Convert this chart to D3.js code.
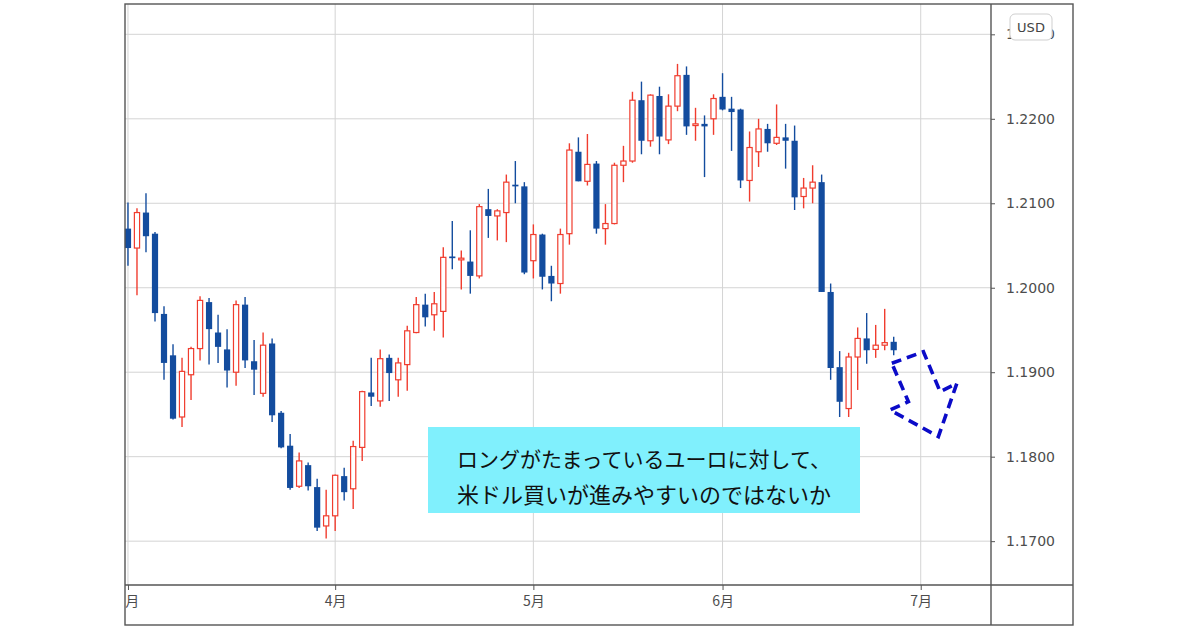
<!DOCTYPE html>
<html>
<head>
<meta charset="utf-8">
<script src="https://cdnjs.cloudflare.com/ajax/libs/d3/7.8.5/d3.min.js"></script>
<style>
  body { margin: 0; background: #fff; }
  .axis text { fill: #4d4d4d; }
</style>
</head>
<body>
<svg class="plot" width="1200" height="630"></svg>
<script>
// daily candles, 1 Mar .. 25 Jun (trading days)
var opens = [1.2070,1.2047,1.2089,1.2064,1.1969,1.1920,1.1847,1.1897,1.1928,1.1983,
  1.1947,1.1927,1.1900,1.1980,1.1913,1.1875,1.1934,1.1852,1.1813,1.1765,
  1.1790,1.1764,1.1718,1.1730,1.1777,1.1762,1.1811,1.1876,1.1866,1.1917,
  1.1891,1.1909,1.1947,1.1980,1.1968,1.1972,1.2037,1.2033,1.2031,1.2014,
  1.2093,1.2085,1.2089,1.2122,1.2120,1.2032,1.2063,1.2014,1.2005,1.2064,
  1.2161,1.2126,1.2147,1.2070,1.2076,1.2145,1.2150,1.2222,1.2174,1.2227,
  1.2175,1.2215,1.2252,1.2192,1.2194,1.2200,1.2226,1.2212,1.2211,1.2127,
  1.2161,1.2188,1.2171,1.2178,1.2174,1.2108,1.2118,1.2125,1.1995,1.1906,
  1.1857,1.1918,1.1940,1.1927,1.1932,1.1936];
var highs = [1.2101,1.2094,1.2112,1.2066,1.1978,1.1933,1.1917,1.1930,1.1990,1.1988,
  1.1968,1.1951,1.1985,1.1989,1.1938,1.1947,1.1940,1.1854,1.1827,1.1805,
  1.1793,1.1774,1.1761,1.1779,1.1787,1.1819,1.1878,1.1917,1.1927,1.1921,
  1.1917,1.1955,1.1989,1.1993,1.1995,1.2048,1.2079,1.2044,1.2068,1.2099,
  1.2117,1.2093,1.2134,1.2150,1.2125,1.2075,1.2064,1.2026,1.2070,1.2171,
  1.2178,1.2182,1.2150,1.2099,1.2148,1.2168,1.2232,1.2244,1.2229,1.2238,
  1.2229,1.2265,1.2262,1.2213,1.2204,1.2229,1.2254,1.2226,1.2212,1.2185,
  1.2200,1.2194,1.2217,1.2194,1.2192,1.2130,1.2145,1.2134,1.2005,1.1925,
  1.1923,1.1953,1.1970,1.1956,1.1975,1.1942];
var lows = [1.2026,1.1991,1.2042,1.1960,1.1891,1.1844,1.1835,1.1867,1.1914,1.1909,
  1.1911,1.1882,1.1884,1.1905,1.1873,1.1871,1.1841,1.1810,1.1761,1.1763,
  1.1760,1.1712,1.1703,1.1712,1.1748,1.1738,1.1795,1.1860,1.1859,1.1866,
  1.1871,1.1878,1.1946,1.1954,1.1949,1.1941,1.2022,1.1998,1.1993,1.2011,
  1.2059,1.2056,1.2054,1.2100,1.2016,1.2011,1.1998,1.1984,1.1993,1.2051,
  1.2126,1.2121,1.2064,1.2051,1.2075,1.2125,1.2148,1.2158,1.2167,1.2158,
  1.2170,1.2209,1.2181,1.2174,1.2131,1.2181,1.2210,1.2162,1.2118,1.2102,
  1.2143,1.2161,1.2169,1.2141,1.2092,1.2094,1.2100,1.1995,1.1891,1.1847,
  1.1847,1.1879,1.1910,1.1917,1.1926,1.1920];
var closes = [1.2047,1.2089,1.2061,1.1970,1.1911,1.1845,1.1901,1.1928,1.1985,1.1951,
  1.1930,1.1902,1.1980,1.1914,1.1903,1.1932,1.1849,1.1811,1.1763,1.1795,
  1.1765,1.1716,1.1730,1.1778,1.1758,1.1812,1.1877,1.1871,1.1916,1.1899,
  1.1911,1.1949,1.1980,1.1965,1.1981,1.2036,1.2035,1.2035,1.2014,1.2096,
  1.2085,1.2091,1.2125,1.2120,1.2018,1.2063,1.2013,1.2005,1.2063,1.2163,
  1.2126,1.2146,1.2070,1.2076,1.2145,1.2150,1.2222,1.2174,1.2228,1.2179,
  1.2215,1.2251,1.2191,1.2194,1.2191,1.2224,1.2211,1.2208,1.2127,1.2166,
  1.2188,1.2171,1.2178,1.2174,1.2107,1.2118,1.2125,1.1995,1.1905,1.1865,
  1.1918,1.1940,1.1926,1.1932,1.1935,1.1926];

// month starts as trading-day index
var monthTicks = [0, 23, 45, 66, 88];
var monthLabels = ["3月", "4月", "5月", "6月", "7月"];
var priceTicks = [1.17, 1.18, 1.19, 1.20, 1.21, 1.22, 1.23];

// dashed arrow outline (trading-day index, price)
var arrowIdx = [84.79, 88.30, 90.15, 92.01, 89.96, 84.60, 86.63];
var arrowPrice = [1.19106, 1.19243, 1.18770, 1.18869, 1.18237, 1.18553, 1.18651];

var noteLines = ["ロングがたまっているユーロに対して、", "米ドル買いが進みやすいのではないか"];

var svg = d3.select(".plot"),
    box = {left: 125, top: 4, right: 991, axisRight: 1073, bottom: 585, frameBottom: 625};

var up = "#f03c2e", down = "#134c9e";

var x = d3.scaleLinear().domain([-0.33, 95.8]).range([box.left, box.right]),
    y = d3.scaleLinear().domain([1.16481, 1.23359]).range([box.bottom, box.top]);

//grid
svg.append("g").selectAll("line")
    .data(priceTicks)
    .enter().append("line")
    .attr("x1", box.left).attr("x2", box.right)
    .attr("y1", function(d) { return y(d); })
    .attr("y2", function(d) { return y(d); })
    .style("stroke", "#d4d4d4");

svg.append("g").selectAll("line")
    .data(monthTicks)
    .enter().append("line")
    .attr("x1", function(d) { return x(d); })
    .attr("x2", function(d) { return x(d); })
    .attr("y1", box.top).attr("y2", box.bottom)
    .style("stroke", "#d4d4d4");

//price axis
var yAxis = svg.append("g")
    .attr("class", "axis")
    .attr("transform", "translate(" + box.right + ",0)")
    .call(d3.axisRight(y).tickValues(priceTicks).tickFormat(d3.format(".4f")).tickSize(4).tickPadding(11));
yAxis.select(".domain").remove();
yAxis.selectAll("line").style("stroke", "#555");
yAxis.selectAll("text")
    .style("font-family", "DejaVu Sans")
    .style("font-size", "14px");

//time axis, clipped at the left border
svg.append("clipPath").attr("id", "tclip")
    .append("rect").attr("x", box.left).attr("y", box.bottom)
    .attr("width", box.right - box.left).attr("height", box.frameBottom - box.bottom);

var xAxis = svg.append("g")
    .attr("clip-path", "url(#tclip)")
    .append("g")
    .attr("class", "axis")
    .attr("transform", "translate(0," + box.bottom + ")")
    .call(d3.axisBottom(x).tickValues(monthTicks)
      .tickFormat(function(d, i) { return monthLabels[i]; })
      .tickSize(5).tickPadding(6));
xAxis.select(".domain").remove();
xAxis.selectAll("line").style("stroke", "#555");
xAxis.selectAll("text")
    .style("font-family", "Noto Sans CJK JP")
    .style("font-size", "14px");

//candles
var idx = d3.range(opens.length);
var candle = svg.append("g").selectAll(".candle")
    .data(idx)
    .enter().append("g")
    .attr("class", "candle");

candle.append("line")
    .attr("x1", function(i) { return x(i); })
    .attr("x2", function(i) { return x(i); })
    .attr("y1", function(i) { return y(highs[i]); })
    .attr("y2", function(i) { return y(lows[i]); })
    .style("stroke", function(i) { return closes[i] >= opens[i] ? up : down; })
    .style("stroke-width", 1.4);

candle.append("rect")
    .attr("x", function(i) { return closes[i] >= opens[i] ? x(i) - 2.6 : x(i) - 3.1; })
    .attr("width", function(i) { return closes[i] >= opens[i] ? 5.2 : 6.2; })
    .attr("y", function(i) { return y(Math.max(opens[i], closes[i])); })
    .attr("height", function(i) { return Math.max(1.6, Math.abs(y(opens[i]) - y(closes[i]))); })
    .style("fill", function(i) { return closes[i] >= opens[i] ? "#fff" : down; })
    .style("stroke", function(i) { return closes[i] >= opens[i] ? up : "none"; })
    .style("stroke-width", 1.2);

//note box
svg.append("rect")
    .attr("x", 428).attr("y", 427)
    .attr("width", 432).attr("height", 86)
    .style("fill", "#80f0fd");

svg.append("g").selectAll("text")
    .data(noteLines)
    .enter().append("text")
    .attr("x", 644)
    .attr("y", function(d, i) { return 458 + i * 35; })
    .attr("dominant-baseline", "central")
    .style("text-anchor", "middle")
    .style("font-family", "Noto Sans CJK JP")
    .style("font-size", function(d, i) { return i ? "22px" : "21px"; })
    .style("fill", "#111")
    .text(function(d) { return d; });

//arrow
var arrowLine = d3.line()
    .x(function(i) { return x(arrowIdx[i]); })
    .y(function(i) { return y(arrowPrice[i]); })
    .curve(d3.curveLinearClosed);

svg.append("path")
    .attr("d", arrowLine(d3.range(arrowIdx.length)))
    .style("fill", "none")
    .style("stroke", "#0b0bc8")
    .style("stroke-width", 3.6)
    .style("stroke-dasharray", "10,6")
    .style("stroke-linejoin", "miter");

//frame
var frame = svg.append("g").style("stroke", "#555").style("stroke-width", 1.4).style("fill", "none");
frame.append("rect").attr("x", box.left).attr("y", box.top)
    .attr("width", box.axisRight - box.left).attr("height", box.frameBottom - box.top);
frame.append("line").attr("x1", box.right).attr("x2", box.right).attr("y1", box.top).attr("y2", box.frameBottom);
frame.append("line").attr("x1", box.left).attr("x2", box.axisRight).attr("y1", box.bottom).attr("y2", box.bottom);

//currency badge
svg.append("rect")
    .attr("x", 1010).attr("y", 14)
    .attr("width", 42).attr("height", 26)
    .attr("rx", 5)
    .style("fill", "#fff")
    .style("stroke", "#cfcfcf");

svg.append("text")
    .attr("x", 1031).attr("y", 27)
    .attr("dominant-baseline", "central")
    .style("text-anchor", "middle")
    .style("font-family", "DejaVu Sans")
    .style("font-size", "13px")
    .style("fill", "#444")
    .text("USD");
</script>
</body>
</html>
